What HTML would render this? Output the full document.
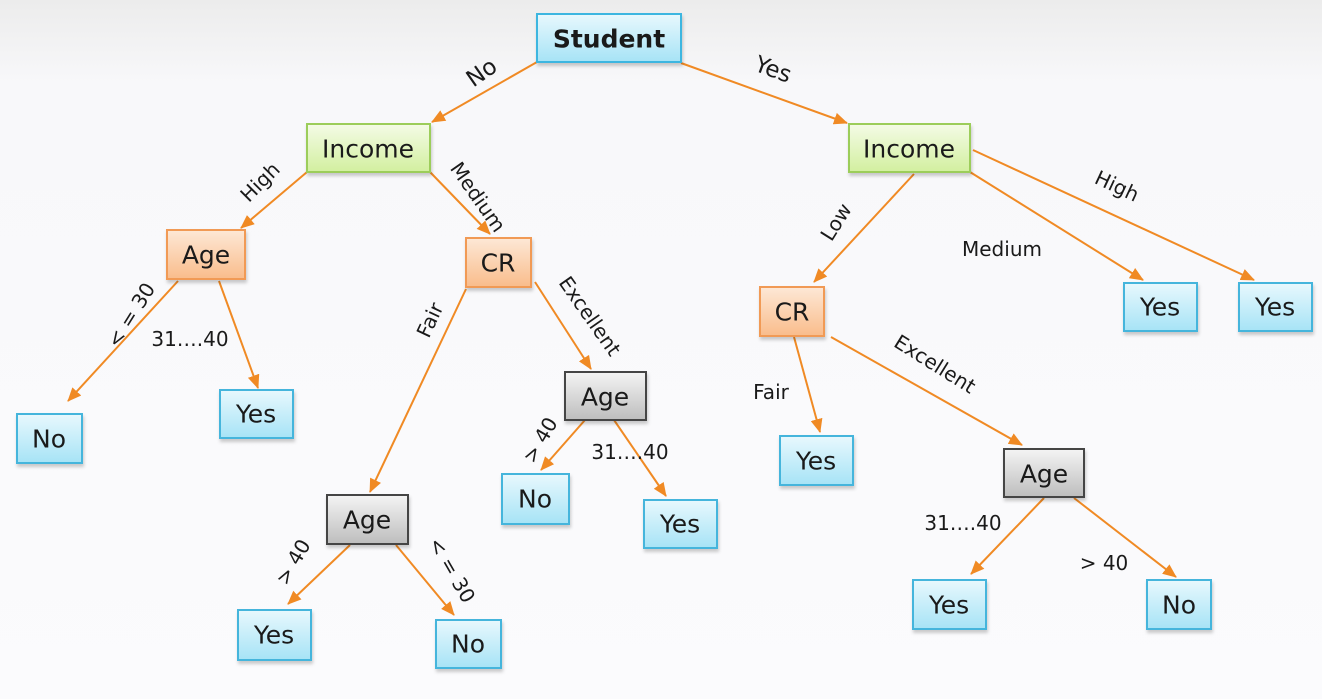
<!DOCTYPE html>
<html><head><meta charset="utf-8"><style>
html,body{margin:0;padding:0;background:#f9f9fb;}
svg{display:block;}
text{font-family:"DejaVu Sans","Liberation Sans",sans-serif;fill:#1a1a1a;}
.n{font-size:25px;text-anchor:middle;dominant-baseline:central;}
.l{font-size:23px;text-anchor:middle;dominant-baseline:central;}
.s{font-size:20px;text-anchor:middle;dominant-baseline:central;}
.e{stroke:#f08a24;stroke-width:2;fill:none;marker-end:url(#ah);}
</style></head><body>
<svg width="1322" height="699" viewBox="0 0 1322 699">
<defs>
<linearGradient id="bg" x1="0" y1="0" x2="0" y2="1"><stop offset="0" stop-color="#ececec"/><stop offset="0.12" stop-color="#f8f8fa"/><stop offset="1" stop-color="#fbfbfd"/></linearGradient>
<linearGradient id="blue" x1="0" y1="0" x2="0" y2="1"><stop offset="0" stop-color="#e8f8fd"/><stop offset="1" stop-color="#a6e3f6"/></linearGradient>
<linearGradient id="green" x1="0" y1="0" x2="0" y2="1"><stop offset="0" stop-color="#f4fbe6"/><stop offset="1" stop-color="#d2ef9f"/></linearGradient>
<linearGradient id="orange" x1="0" y1="0" x2="0" y2="1"><stop offset="0" stop-color="#fde8d6"/><stop offset="1" stop-color="#f9bc8b"/></linearGradient>
<linearGradient id="gray" x1="0" y1="0" x2="0" y2="1"><stop offset="0" stop-color="#f4f4f4"/><stop offset="1" stop-color="#bdbdbd"/></linearGradient>
<marker id="ah" markerWidth="14" markerHeight="12" refX="13" refY="6" orient="auto" markerUnits="userSpaceOnUse"><path d="M0,0 L14,6 L0,12 z" fill="#f08a24"/></marker>
<filter id="sh" x="-10%" y="-10%" width="130%" height="140%"><feDropShadow dx="1" dy="3" stdDeviation="1.5" flood-color="#000" flood-opacity="0.2"/></filter>
</defs>
<rect width="1322" height="699" fill="url(#bg)"/>

<!-- edges -->
<line class="e" x1="537" y1="62" x2="432" y2="122"/>
<line class="e" x1="681" y1="63" x2="847" y2="123"/>
<line class="e" x1="307" y1="172" x2="241" y2="228"/>
<line class="e" x1="430" y1="172" x2="490" y2="234"/>
<line class="e" x1="178" y1="281" x2="68" y2="401"/>
<line class="e" x1="219" y1="281" x2="258" y2="388"/>
<line class="e" x1="466" y1="289" x2="370" y2="492"/>
<line class="e" x1="535" y1="282" x2="591" y2="369"/>
<line class="e" x1="585" y1="420" x2="541" y2="470"/>
<line class="e" x1="614" y1="420" x2="666" y2="496"/>
<line class="e" x1="350" y1="545" x2="288" y2="604"/>
<line class="e" x1="396" y1="545" x2="454" y2="615"/>
<line class="e" x1="914" y1="174" x2="814" y2="282"/>
<line class="e" x1="970" y1="172" x2="1143" y2="280"/>
<line class="e" x1="973" y1="150" x2="1254" y2="280"/>
<line class="e" x1="794" y1="337" x2="820" y2="432"/>
<line class="e" x1="831" y1="337" x2="1022" y2="445"/>
<line class="e" x1="1044" y1="498" x2="971" y2="574"/>
<line class="e" x1="1074" y1="498" x2="1176" y2="577"/>

<!-- edge labels -->
<text class="l" x="482" y="73" transform="rotate(-35 482 73)">No</text>
<text class="l" x="773" y="70" transform="rotate(20 773 70)">Yes</text>
<text class="s" x="260" y="182" transform="rotate(-45 260 182)">High</text>
<text class="s" x="478" y="197" transform="rotate(55 478 197)">Medium</text>
<text class="s" x="131" y="315" transform="rotate(-58 131 315)">&lt; = 30</text>
<text class="s" x="190" y="339">31….40</text>
<text class="s" x="430" y="320" transform="rotate(-65 430 320)">Fair</text>
<text class="s" x="590" y="316" transform="rotate(55 590 316)">Excellent</text>
<text class="s" x="540" y="440" transform="rotate(-60 540 440)">&gt; 40</text>
<text class="s" x="630" y="452">31….40</text>
<text class="s" x="293" y="562" transform="rotate(-60 293 562)">&gt; 40</text>
<text class="s" x="452" y="570" transform="rotate(60 452 570)">&lt; = 30</text>
<text class="s" x="836" y="222" transform="rotate(-58 836 222)">Low</text>
<text class="s" x="1002" y="249">Medium</text>
<text class="s" x="1117" y="186" transform="rotate(25 1117 186)">High</text>
<text class="s" x="771" y="392">Fair</text>
<text class="s" x="935" y="364" transform="rotate(32 935 364)">Excellent</text>
<text class="s" x="963" y="523">31….40</text>
<text class="s" x="1104" y="563">&gt; 40</text>

<!-- nodes -->
<g stroke-width="2" filter="url(#sh)">
<rect x="537" y="14" width="144" height="48" fill="url(#blue)" stroke="#3cb6e0"/>
<rect x="307" y="124" width="123" height="48" fill="url(#green)" stroke="#9ccd5a"/>
<rect x="849" y="124" width="121" height="48" fill="url(#green)" stroke="#9ccd5a"/>
<rect x="167" y="230" width="78" height="49" fill="url(#orange)" stroke="#f19a55"/>
<rect x="466" y="238" width="65" height="49" fill="url(#orange)" stroke="#f19a55"/>
<rect x="760" y="287" width="64" height="49" fill="url(#orange)" stroke="#f19a55"/>
<rect x="565" y="372" width="81" height="48" fill="url(#gray)" stroke="#444"/>
<rect x="327" y="495" width="81" height="49" fill="url(#gray)" stroke="#444"/>
<rect x="1004" y="449" width="80" height="48" fill="url(#gray)" stroke="#444"/>
<rect x="17" y="414" width="65" height="49" fill="url(#blue)" stroke="#45b5dc"/>
<rect x="220" y="390" width="73" height="48" fill="url(#blue)" stroke="#45b5dc"/>
<rect x="502" y="474" width="67" height="50" fill="url(#blue)" stroke="#45b5dc"/>
<rect x="644" y="500" width="73" height="48" fill="url(#blue)" stroke="#45b5dc"/>
<rect x="238" y="610" width="73" height="50" fill="url(#blue)" stroke="#45b5dc"/>
<rect x="436" y="620" width="65" height="48" fill="url(#blue)" stroke="#45b5dc"/>
<rect x="780" y="436" width="73" height="49" fill="url(#blue)" stroke="#45b5dc"/>
<rect x="913" y="580" width="73" height="49" fill="url(#blue)" stroke="#45b5dc"/>
<rect x="1147" y="580" width="64" height="49" fill="url(#blue)" stroke="#45b5dc"/>
<rect x="1124" y="283" width="73" height="48" fill="url(#blue)" stroke="#45b5dc"/>
<rect x="1239" y="283" width="73" height="48" fill="url(#blue)" stroke="#45b5dc"/>
</g>

<text class="n" x="609" y="39" style="font-weight:bold">Student</text>
<text class="n" x="368" y="149">Income</text>
<text class="n" x="909" y="149">Income</text>
<text class="n" x="206" y="255">Age</text>
<text class="n" x="498" y="263">CR</text>
<text class="n" x="792" y="312">CR</text>
<text class="n" x="605" y="397">Age</text>
<text class="n" x="367" y="520">Age</text>
<text class="n" x="1044" y="474">Age</text>
<text class="n" x="49" y="439">No</text>
<text class="n" x="256" y="414">Yes</text>
<text class="n" x="535" y="499">No</text>
<text class="n" x="680" y="524">Yes</text>
<text class="n" x="274" y="635">Yes</text>
<text class="n" x="468" y="644">No</text>
<text class="n" x="816" y="461">Yes</text>
<text class="n" x="949" y="605">Yes</text>
<text class="n" x="1179" y="605">No</text>
<text class="n" x="1160" y="307">Yes</text>
<text class="n" x="1275" y="307">Yes</text>
</svg>
</body></html>
